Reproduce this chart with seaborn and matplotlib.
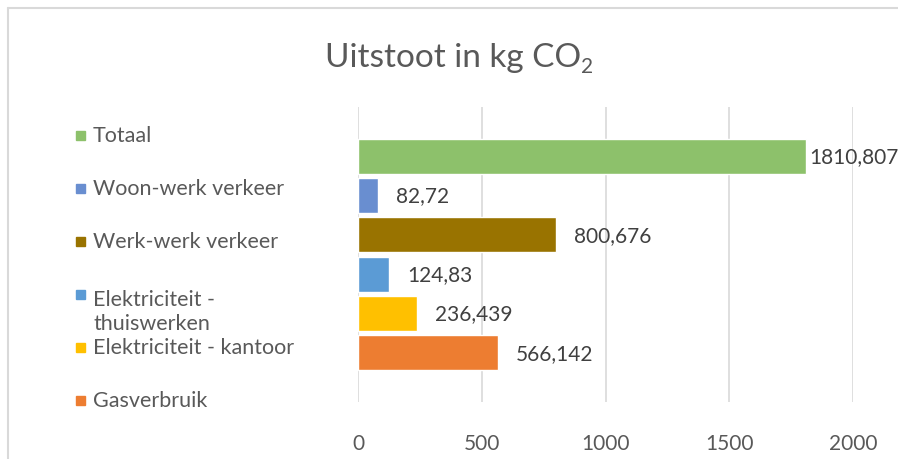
import numpy as np
import pandas as pd
import matplotlib
matplotlib.use('Agg')
import matplotlib.pyplot as plt
import seaborn as sns
from matplotlib.patches import Rectangle
from matplotlib.lines import Line2D

# ---------------- data ----------------
categories = ['Totaal', 'Woon-werk verkeer', 'Werk-werk verkeer',
              'Elektriciteit - thuiswerken', 'Elektriciteit - kantoor', 'Gasverbruik']
values = [1810.807, 82.72, 800.676, 124.83, 236.439, 566.142]
colors = ['#8DC16B', '#698ED0', '#997300', '#5B9BD5', '#FFC000', '#ED7D31']
legend_labels = ['Totaal', 'Woon-werk verkeer', 'Werk-werk verkeer',
                 'Elektriciteit -\nthuiswerken', 'Elektriciteit - kantoor', 'Gasverbruik']
xticks = [0, 500, 1000, 1500, 2000]

df = pd.DataFrame({'bron': categories, 'kg': values})

# ---------------- style ----------------
sns.set_style('white')
plt.rcParams['font.family'] = ['Lato', 'DejaVu Sans']
grey = '#595959'

W, H = 898, 460
fig = plt.figure(figsize=(W / 100, H / 100), dpi=100)
ax = fig.add_axes([358 / W, 1 - 403 / H, (853 - 358) / W, (403 - 108) / H])

sns.barplot(data=df, x='kg', y='bron', hue='bron', order=categories,
            hue_order=categories, palette=dict(zip(categories, colors)),
            legend=False, width=0.89, saturation=1, ax=ax, zorder=3)

ax.set_xlim(0, 2000)
ax.set_ylim(6.245, -1.245)
ax.set_xticks(xticks)
ax.set_xticklabels([str(t) for t in xticks], fontsize=15, color=grey)
ax.tick_params(axis='x', length=0, pad=22)
ax.set_yticks([])
ax.set_xlabel('')
ax.set_ylabel('')
ax.xaxis.grid(True, color='#D9D9D9', linewidth=1.2, zorder=0)
ax.set_axisbelow(True)
for s in ax.spines.values():
    s.set_visible(False)

# data labels (Excel pulls the Totaal label in next to the bar)
for i, p in enumerate(ax.patches):
    v = values[i]
    pad = 3 if i == 0 else 18
    ax.annotate(str(v).replace('.', ','), (p.get_width(), p.get_y() + p.get_height() / 2),
                xytext=(pad, 0), textcoords='offset pixels', va='center', ha='left',
                fontsize=15, color='#404040', annotation_clip=False)

# title with subscript 2
fig.text(581 / W, 1 - 67 / H, 'Uitstoot in kg CO', ha='right', va='baseline',
         fontsize=24, color=grey)
fig.text(581 / W, 1 - 73 / H, '2', ha='left', va='baseline', fontsize=15, color=grey)

# legend on the left
for i, (lab, col) in enumerate(zip(legend_labels, colors)):
    y = 136 + i * 53
    fig.patches.append(Rectangle((76 / W, 1 - (y + 4.5) / H), 9 / W, 9 / H,
                                 transform=fig.transFigure, color=col, figure=fig))
    base = y + 6 + 29 * lab.count('\n')
    fig.text(93 / W, 1 - base / H, lab, ha='left', va='baseline', fontsize=15.5,
             color=grey, linespacing=1.25)

# chart border (top and left visible)
fig.add_artist(Line2D([8 / W, 8 / W], [0, 1 - 9 / H], transform=fig.transFigure,
                      color='#D9D9D9', linewidth=1.5))
fig.add_artist(Line2D([8 / W, 1], [1 - 9 / H, 1 - 9 / H], transform=fig.transFigure,
                      color='#D9D9D9', linewidth=1.5))

fig.savefig('out.png', dpi=100)
